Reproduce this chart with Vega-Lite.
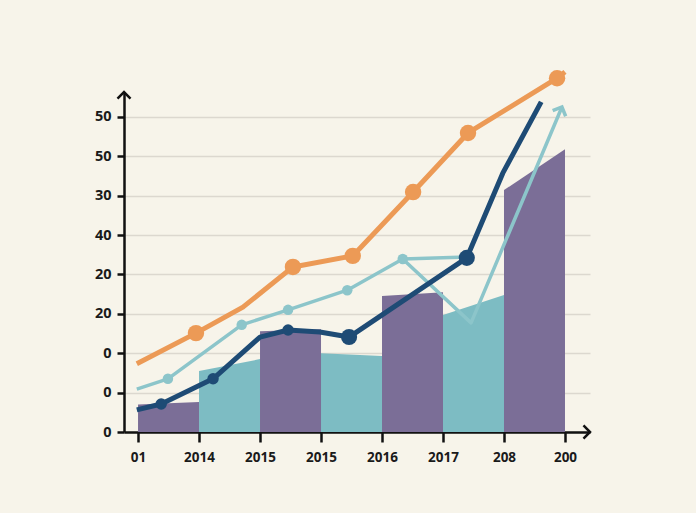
{
  "$schema": "https://vega.github.io/schema/vega-lite/v6.json",
  "description": "Mixed area and line chart with stepped purple bars, a teal area and three trend lines.",
  "width": 466,
  "height": 340,
  "autosize": {"type": "none"},
  "padding": {"left": 124, "top": 92, "right": 106, "bottom": 81},
  "background": "#f7f4ea",
  "config": {"view": {"stroke": null}, "font": "Open Sans"},
  "datasets": {
    "tealArea": [
      {"x": 1.0, "v": 15.5},
      {"x": 2.0, "v": 18.5},
      {"x": 3.0, "v": 20.0},
      {"x": 4.0, "v": 19.3},
      {"x": 5.0, "v": 29.7},
      {"x": 6.0, "v": 34.8}
    ],
    "bars": [
      {"bar": "a", "x": 0, "v": 7.0},
      {"bar": "a", "x": 1, "v": 7.6},
      {"bar": "b", "x": 2, "v": 25.6},
      {"bar": "b", "x": 3, "v": 26.1},
      {"bar": "c", "x": 4, "v": 34.5},
      {"bar": "c", "x": 5, "v": 35.5},
      {"bar": "d", "x": 6, "v": 61.4},
      {"bar": "d", "x": 7, "v": 71.8}
    ],
    "teal": [
      {"seg": "main", "i": 0, "x": -0.02, "v": 10.9, "m": false},
      {"seg": "main", "i": 1, "x": 0.49, "v": 13.5, "m": true},
      {"seg": "main", "i": 2, "x": 1.70, "v": 27.2, "m": true},
      {"seg": "main", "i": 3, "x": 2.46, "v": 31.0, "m": true},
      {"seg": "main", "i": 4, "x": 3.43, "v": 36.0, "m": true},
      {"seg": "main", "i": 5, "x": 4.34, "v": 43.9, "m": true},
      {"seg": "main", "i": 6, "x": 5.39, "v": 44.4, "m": false},
      {"seg": "branch", "i": 0, "x": 4.34, "v": 43.9, "m": false},
      {"seg": "branch", "i": 1, "x": 5.46, "v": 27.7, "m": false},
      {"seg": "branch", "i": 2, "x": 6.95, "v": 82.5, "m": false}
    ],
    "tealTip": [{"x": 6.95, "v": 82.5}],
    "navy": [
      {"i": 0, "x": -0.02, "v": 5.6, "kind": "none"},
      {"i": 1, "x": 0.38, "v": 7.1, "kind": "small"},
      {"i": 2, "x": 1.23, "v": 13.5, "kind": "small"},
      {"i": 3, "x": 2.0, "v": 24.1, "kind": "none"},
      {"i": 4, "x": 2.46, "v": 25.9, "kind": "small"},
      {"i": 5, "x": 2.98, "v": 25.4, "kind": "none"},
      {"i": 6, "x": 3.46, "v": 24.1, "kind": "large"},
      {"i": 7, "x": 5.39, "v": 44.2, "kind": "large"},
      {"i": 8, "x": 5.98, "v": 65.7, "kind": "none"},
      {"i": 9, "x": 6.61, "v": 83.8, "kind": "none"}
    ],
    "orange": [
      {"i": 0, "x": -0.02, "v": 17.3, "m": false},
      {"i": 1, "x": 0.95, "v": 25.1, "m": true},
      {"i": 2, "x": 1.72, "v": 31.7, "m": false},
      {"i": 3, "x": 2.54, "v": 41.9, "m": true},
      {"i": 4, "x": 3.52, "v": 44.7, "m": true},
      {"i": 5, "x": 4.51, "v": 60.9, "m": true},
      {"i": 6, "x": 5.41, "v": 75.9, "m": true},
      {"i": 7, "x": 6.87, "v": 89.8, "m": true},
      {"i": 8, "x": 7.0, "v": 91.4, "m": false}
    ],
    "axisArrows": [
      {"dir": "up", "x": -0.23, "v": 86.3},
      {"dir": "right", "x": 7.41, "v": 0}
    ]
  },
  "encoding": {
    "x": {
      "field": "x",
      "type": "quantitative",
      "scale": {"domain": [-0.23, 7.41], "nice": false, "zero": false},
      "axis": {
        "values": [0, 1, 2, 3, 4, 5, 6, 7],
        "labelExpr": "['01','2014','2015','2015','2016','2017','208','200'][datum.value]",
        "title": null,
        "grid": false,
        "domainColor": "#111111",
        "domainWidth": 2.5,
        "tickColor": "#111111",
        "tickWidth": 2.5,
        "tickSize": 10,
        "labelPadding": 8,
        "labelFont": "Open Sans",
        "labelFontSize": 13.5,
        "labelFontWeight": "bold",
        "labelColor": "#1a1a1a"
      }
    },
    "y": {
      "field": "v",
      "type": "quantitative",
      "stack": null,
      "scale": {"domain": [0, 86.3], "nice": false},
      "axis": {
        "values": [0, 10, 20, 30, 40, 50, 60, 70, 80],
        "labelExpr": "['0','0','0','20','20','40','30','50','50'][round(datum.value / 10)]",
        "title": null,
        "grid": true,
        "gridColor": "#dcd8cf",
        "gridWidth": 1.5,
        "domainColor": "#111111",
        "domainWidth": 2.5,
        "tickColor": "#111111",
        "tickWidth": 2.5,
        "tickSize": 7,
        "labelPadding": 6,
        "labelFont": "Open Sans",
        "labelFontSize": 14.5,
        "labelFontWeight": "bold",
        "labelColor": "#1a1a1a"
      }
    }
  },
  "layer": [
    {
      "data": {"name": "tealArea"},
      "mark": {"type": "area", "color": "#7dbcc3", "opacity": 1}
    },
    {
      "data": {"name": "bars"},
      "mark": {"type": "area", "color": "#7b6e97", "opacity": 1},
      "encoding": {
        "detail": {"field": "bar", "type": "nominal"}
      }
    },
    {
      "data": {"name": "teal"},
      "mark": {"type": "line", "color": "#8cc5ca", "strokeWidth": 3.5, "strokeJoin": "round"},
      "encoding": {
        "detail": {"field": "seg", "type": "nominal"},
        "order": {"field": "i", "type": "quantitative"}
      }
    },
    {
      "data": {"name": "teal"},
      "transform": [{"filter": "datum.m"}],
      "mark": {"type": "circle", "color": "#8cc5ca", "opacity": 1, "size": 110}
    },
    {
      "data": {"name": "tealTip"},
      "mark": {
        "type": "point",
        "shape": "M-1,1L0,0L1,1",
        "filled": false,
        "stroke": "#8cc5ca",
        "strokeWidth": 3.5,
        "strokeJoin": "miter",
        "angle": 23,
        "size": 200,
        "opacity": 1
      }
    },
    {
      "data": {"name": "navy"},
      "mark": {"type": "line", "color": "#1e4b75", "strokeWidth": 5, "strokeJoin": "round", "strokeCap": "butt"},
      "encoding": {"order": {"field": "i", "type": "quantitative"}}
    },
    {
      "data": {"name": "navy"},
      "transform": [{"filter": "datum.kind !== 'none'"}],
      "mark": {"type": "circle", "color": "#1e4b75", "opacity": 1},
      "encoding": {
        "size": {
          "field": "kind",
          "type": "nominal",
          "scale": {"domain": ["small", "large"], "range": [130, 260]},
          "legend": null
        }
      }
    },
    {
      "data": {"name": "orange"},
      "mark": {"type": "line", "color": "#ec9a56", "strokeWidth": 5, "strokeJoin": "round", "strokeCap": "butt"},
      "encoding": {"order": {"field": "i", "type": "quantitative"}}
    },
    {
      "data": {"name": "orange"},
      "transform": [{"filter": "datum.m"}],
      "mark": {"type": "circle", "color": "#ec9a56", "opacity": 1, "size": 270}
    },
    {
      "data": {"name": "axisArrows"},
      "mark": {
        "type": "point",
        "filled": false,
        "stroke": "#111111",
        "strokeWidth": 2.5,
        "size": 170,
        "opacity": 1
      },
      "encoding": {
        "shape": {
          "field": "dir",
          "type": "nominal",
          "scale": {"domain": ["up", "right"], "range": ["M-1,1L0,0L1,1", "M-1,-1L0,0L-1,1"]},
          "legend": null
        }
      }
    }
  ]
}
